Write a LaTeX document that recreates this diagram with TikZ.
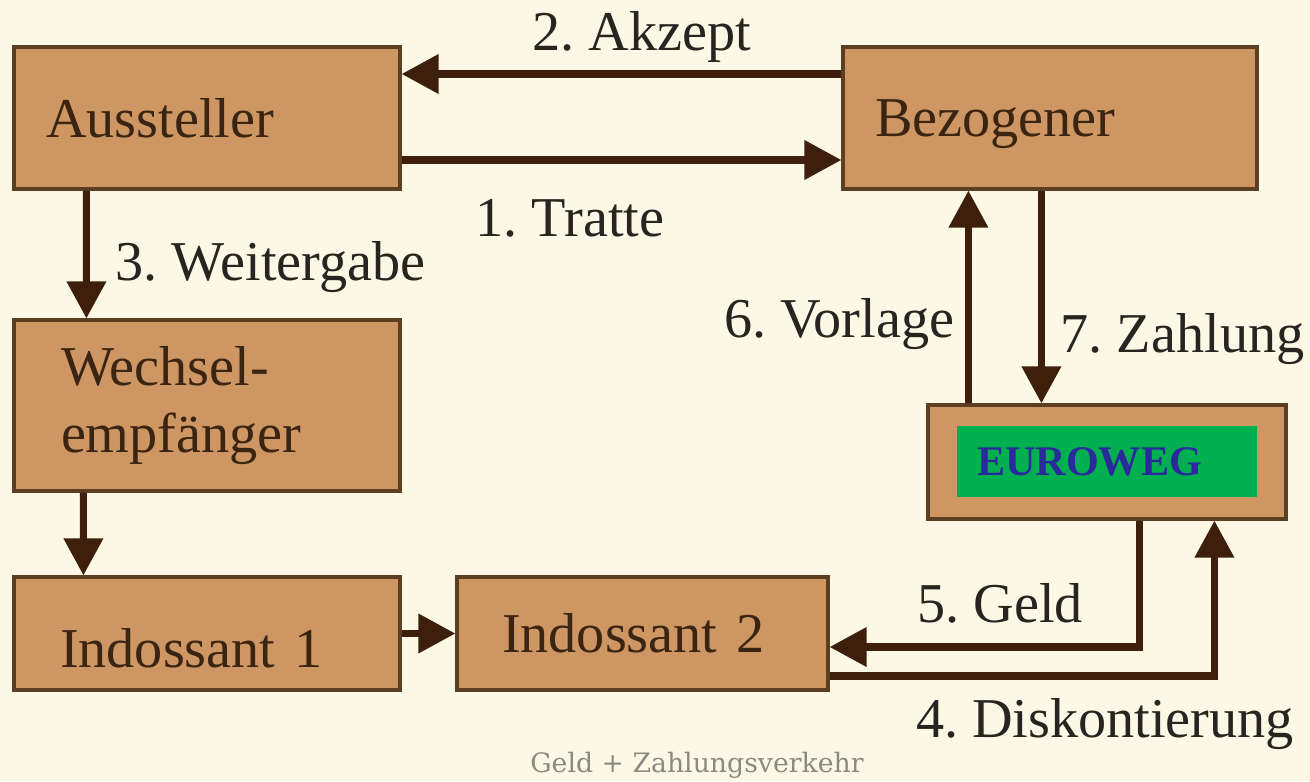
\documentclass[tikz,border=0pt]{standalone}
\usepackage{fontspec}
\setmainfont{Liberation Serif}
\newfontfamily\capfont{DejaVu Serif}
\usetikzlibrary{positioning,arrows.meta,calc}
\definecolor{paperCream}{HTML}{FBF9E6}
\definecolor{boxTan}{HTML}{CD9662}
\definecolor{boxEdge}{HTML}{5C3E22}
\definecolor{arrowBrown}{HTML}{3D1F0B}
\definecolor{boxInk}{HTML}{3A2412}
\definecolor{labelInk}{HTML}{282420}
\definecolor{euroGreen}{HTML}{00B050}
\definecolor{euroBlue}{HTML}{2B2A9C}
\definecolor{captionGray}{HTML}{8C8A80}
\tikzset{
    party/.style={draw=boxEdge,fill=boxTan,line width=0.9pt,inner xsep=0.32cm,
        inner ysep=0pt,align=left,text=boxInk,font=\fontsize{16}{19}\selectfont},
    flowarrow/.style={-{Triangle[length=0.37cm,width=0.38cm]},draw=arrowBrown,
        line width=2pt},
    steplabel/.style={text=labelInk,font=\fontsize{16}{19}\selectfont,inner sep=0pt}
}
\begin{document}
\frenchspacing
\begin{tikzpicture}
    \fill[paperCream] (0,0) rectangle (13.10,7.81);
    \useasboundingbox (0,0) rectangle (13.10,7.81);

    % parties
    \node[party,text width=3.22cm,minimum height=1.42cm] (aussteller) at (2.07,6.63) {Aussteller};
    \node[party,text width=3.50cm,minimum height=1.42cm,text depth=0pt] (bezogener) at (10.50,6.63) {Bezogener};
    \node[party,inner xsep=0.47cm,text width=2.92cm,minimum height=1.71cm] (empfaenger) at (2.07,3.755)
        {Wechsel-\\empfänger};
    \node[party,inner xsep=0.46cm,text width=2.94cm,minimum height=1.13cm] (indossant1) at (2.07,1.475)
        {\raisebox{-0.335cm}[0pt][0pt]{Indossant 1}};
    \node[party,inner xsep=0.45cm,text width=2.81cm,minimum height=1.13cm] (indossant2) at (6.425,1.475)
        {Indossant 2};
    \node[party,minimum width=3.58cm,minimum height=1.14cm] (euroweg) at (11.07,3.19) {};
    \node[fill=euroGreen,inner xsep=0.20cm,inner ysep=0pt,text width=2.60cm,minimum height=0.71cm,
        align=left,text=euroBlue,font=\fontsize{12}{14}\selectfont\bfseries] (eurotag) at (11.07,3.195)
        {EUROWEG};

    % connectors
    \draw[flowarrow] ([yshift=0.44cm]bezogener.west) -- ([yshift=0.44cm]aussteller.east);
    \draw[flowarrow] ([yshift=-0.42cm]aussteller.east) -- ([yshift=-0.42cm]bezogener.west);
    \draw[flowarrow] ([xshift=0.74cm]aussteller.south west) -- ([xshift=0.74cm]empfaenger.north west);
    \draw[flowarrow] ([xshift=0.71cm]empfaenger.south west) -- ([xshift=0.71cm]indossant1.north west);
    \draw[flowarrow] (indossant1.east) -- (indossant2.west);
    \draw[flowarrow] ([xshift=0.42cm]euroweg.north west) -- ([xshift=0.42cm]euroweg.north west |- bezogener.south);
    \draw[flowarrow] ([xshift=1.15cm]euroweg.north west |- bezogener.south) -- ([xshift=1.15cm]euroweg.north west);
    \draw[flowarrow] ([xshift=2.13cm]euroweg.south west) |- ([yshift=-0.135cm]indossant2.east);
    \draw[flowarrow] ([yshift=-0.425cm]indossant2.east) -| ([xshift=2.88cm]euroweg.south west);

    % step labels
    \node[steplabel,anchor=base] (akzept) at (6.42,7.31) {2. Akzept};
    \node[steplabel,anchor=base] (tratte) at (5.70,5.45) {1. Tratte};
    \node[steplabel,anchor=base west] (weitergabe) at (1.15,5.01) {3. Weitergabe};
    \node[steplabel,anchor=base east] (vorlage) at (9.55,4.44) {6. Vorlage};
    \node[steplabel,anchor=base west] (zahlung) at (10.60,4.29) {7. Zahlung};
    \node[steplabel,anchor=base] (geld) at (10.00,1.59) {5. Geld};
    \node[steplabel,anchor=base] (diskont) at (11.05,0.44) {4. Diskontierung};

    \node[anchor=base,inner sep=0pt,text=captionGray,font=\capfont\fontsize{7.6}{9}\selectfont] (caption)
        at (6.97,0.09) {Geld + Zahlungsverkehr};
\end{tikzpicture}
\end{document}
